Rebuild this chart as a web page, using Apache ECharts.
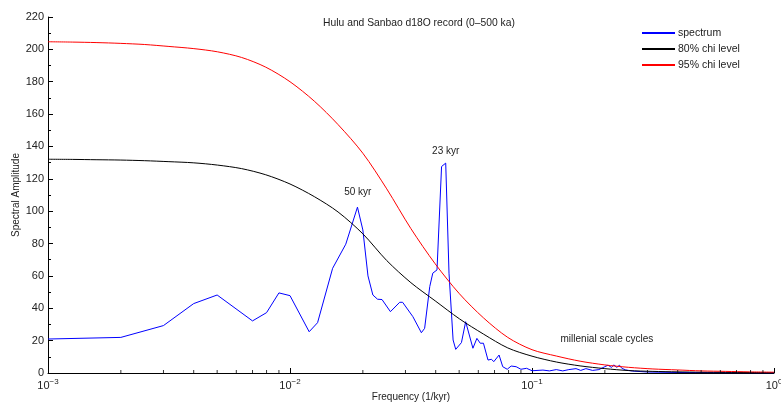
<!DOCTYPE html>
<html><head><meta charset="utf-8">
<script src="https://cdn.jsdelivr.net/npm/echarts@6/dist/echarts.min.js"></script>
<style>html,body{margin:0;padding:0;background:#fff}#c{width:781px;height:409px}</style>
</head><body><div id="c"></div>
<script>
// Spectrum (frequency 1/kyr, amplitude)
const spectrumFreq = [0.001,0.002,0.003,0.004,0.005,0.007,0.008,0.009,0.010,0.012,0.013,0.015,0.017,0.019,0.020,0.021,0.022,0.023,0.024,0.026,0.0284,0.0292,0.0322,0.0349,0.0360,0.0378,0.0389,0.0405,0.0423,0.0440,0.0454,0.0472,0.0484,0.0511,0.0532,0.0541,0.0570,0.0592,0.0611,0.0630,0.0658,0.0680,0.0695,0.0731,0.0757,0.079,0.082,0.086,0.090,0.095,0.100,0.111,0.118,0.126,0.134,0.142,0.152,0.159,0.167,0.178,0.189,0.200,0.206,0.213,0.218,0.224,0.230,0.235,0.244,0.260,0.300,0.400,0.600,1.000];
const spectrumAmp  = [21,22,29.3,42.9,48.2,32.2,37.3,49.5,47.8,25.5,31.1,64.7,79.6,102.5,88.4,60,48.2,45.6,45.4,37.9,43.7,43.7,34.8,24.9,27.6,53.4,61.7,63.7,127.6,129.7,61.7,20.4,14.6,18.8,31.7,31.7,15.3,21.4,18.4,18.4,8.0,8.5,7.0,11.1,3.9,2.3,4.3,3.9,2.3,2.9,1.4,1.8,1.3,2.1,1.3,2.1,2.7,1.6,2.7,1.6,2.1,3.9,4.8,3.5,5.0,3.5,4.8,2.9,1.9,1.2,0.6,0.3,0.2,0.1];
// Chi-square confidence levels (read at 0.1-decade steps)
const levelFreq = [0.001,0.00126,0.00158,0.002,0.00251,0.00316,0.00398,0.00501,0.00631,0.00794,0.01,0.0126,0.0158,0.02,0.0251,0.0316,0.0398,0.0501,0.0631,0.0794,0.1,0.126,0.158,0.2,0.251,0.316,0.398,0.501,0.631,0.794,1.0];
const chi80 = [132.1,132,131.8,131.6,131.2,130.6,129.9,128.5,126.3,122.5,116.8,109,99.5,86,69.5,55.8,44.6,33.5,24,15.5,10.4,6.8,4.4,2.7,1.5,1.0,0.7,0.5,0.4,0.3,0.2];
const chi95 = [204.7,204.5,204.2,203.7,203,201.8,200.5,198.5,195,189,180,168,153.5,135.8,113.8,89.2,67.5,49,34,22,14.4,10.5,7.3,5,3.5,2.5,1.9,1.3,1.0,0.7,0.5];
// Log-axis minor tick positions
const minorTickValues = [0.002,0.003,0.004,0.005,0.006,0.007,0.008,0.009,0.02,0.03,0.04,0.05,0.06,0.07,0.08,0.09,0.2,0.3,0.4,0.5,0.6,0.7,0.8,0.9];
// Annotations
const annotations = [
  {text:'50 kyr', f:0.01906, v:111.6},
  {text:'23 kyr', f:0.044, v:137},
  {text:'millenial scale cycles', f:0.204, v:21}
];
const seriesNames = ['spectrum','80% chi level','95% chi level'];

const zip = (a,b)=>a.map((x,i)=>[x,b[i]]);
const FONT = 'Liberation Sans, Arial, sans-serif';
const chart = echarts.init(document.getElementById('c'));
const supMap = {'-3':'−3','-2':'−2','-1':'−1','0':'0'};
chart.setOption({
  animation:false,
  textStyle:{fontFamily:FONT},
  title:{text:'Hulu and Sanbao d18O record (0–500 ka)', left:419, top:18, textAlign:'center', padding:0,
    textStyle:{fontSize:10.3, fontWeight:'normal', color:'#222', fontFamily:FONT}},
  legend:{orient:'vertical', left:641, top:27.5, padding:0, itemWidth:33, itemHeight:10, itemGap:5,
    itemStyle:{opacity:0},
    data:seriesNames, textStyle:{fontSize:10.5, color:'#222', fontFamily:FONT, padding:[0,0,0,-2]}},
  grid:{left:48, right:7, top:17, bottom:36, outerBoundsMode:'none', containLabel:false},
  xAxis:{type:'log', logBase:10, min:0.001, max:1,
    name:'Frequency (1/kyr)', nameLocation:'middle', nameGap:19, nameMoveOverlap:false,
    nameTextStyle:{fontSize:10, color:'#222', fontFamily:FONT},
    axisLine:{lineStyle:{color:'#000', width:1}},
    axisTick:{inside:true, length:5, lineStyle:{color:'#000'}},
    splitLine:{show:false},
    axisLabel:{margin:5, color:'#222', fontSize:11, fontFamily:FONT, hideOverlap:false,
      formatter:function(v){const e=Math.round(Math.log10(v));return '10{s|'+(supMap[String(e)]||e)+'}';},
      rich:{s:{fontSize:8, verticalAlign:'top', padding:[0,0,7,0], color:'#222', fontFamily:FONT}}}},
  yAxis:{type:'value', min:0, max:220, interval:20,
    name:'Spectral Amplitude', nameLocation:'middle', nameGap:27, nameRotate:90, nameMoveOverlap:false,
    nameTextStyle:{fontSize:10, color:'#222', fontFamily:FONT},
    axisLine:{show:true, lineStyle:{color:'#000', width:1}},
    axisTick:{show:true, inside:true, length:5, lineStyle:{color:'#000'}},
    minorTick:{show:true, splitNumber:2, length:3, lineStyle:{color:'#000'}},
    splitLine:{show:false},
    axisLabel:{margin:4, color:'#222', fontSize:11, fontFamily:FONT}},
  series:[
    {name:'spectrum', type:'line', data:zip(spectrumFreq, spectrumAmp), symbol:'none',
     lineStyle:{color:'#0000ff', width:1}, itemStyle:{color:'#0000ff'}, z:2,
     markPoint:{symbol:'rect', symbolSize:0, silent:true,
       label:{show:true, position:'inside', color:'#222', fontSize:10, fontFamily:FONT,
         formatter:p=>p.name},
       data:annotations.map(a=>({name:a.text, coord:[a.f, a.v]}))}},
    {name:'80% chi level', type:'line', data:zip(levelFreq, chi80), symbol:'none', smooth:0.3,
     lineStyle:{color:'#000000', width:1}, itemStyle:{color:'#000000'}, z:3},
    {name:'95% chi level', type:'line', data:zip(levelFreq, chi95), symbol:'none', smooth:0.3,
     lineStyle:{color:'#ff0000', width:1}, itemStyle:{color:'#ff0000'}, z:4},
    {name:'minorTicks', type:'scatter', data:minorTickValues.map(f=>[f,0]), symbol:'rect',
     symbolSize:[1,3], symbolOffset:[0,-1.5], itemStyle:{color:'#000'}, silent:true, z:5, clip:false}
  ]
});
</script></body></html>
